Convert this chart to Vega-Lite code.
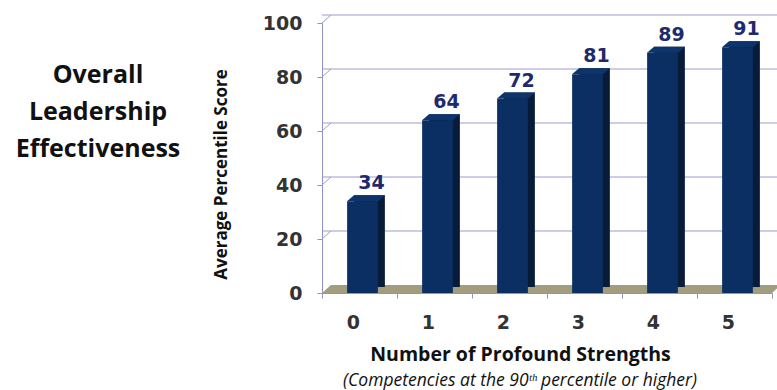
{
  "$schema": "https://vega.github.io/schema/vega-lite/v6.json",
  "width": 450,
  "height": 270,
  "autosize": {"type": "none"},
  "padding": {"left": 322, "top": 23, "right": 5, "bottom": 97},
  "background": "white",
  "title": {
    "text": "(Competencies at the 90ᵗʰ percentile or  higher)",
    "orient": "bottom",
    "anchor": "middle",
    "dx": -27,
    "offset": 8,
    "font": "Open Sans",
    "fontStyle": "italic",
    "fontWeight": "normal",
    "fontSize": 17.5,
    "color": "#111111"
  },
  "config": {
    "view": {"stroke": null},
    "axis": {"domainColor": "#8f92c4", "tickColor": "#8f92c4", "grid": false}
  },
  "data": {
    "values": [
      {"n": "0", "v": 34},
      {"n": "1", "v": 64},
      {"n": "2", "v": 72},
      {"n": "3", "v": 81},
      {"n": "4", "v": 89},
      {"n": "5", "v": 91}
    ]
  },
  "layer": [
    {
      "data": {"values": [{"v": 20}, {"v": 40}, {"v": 60}, {"v": 80}, {"v": 100}]},
      "mark": {"type": "rule", "stroke": "#9a9dcc", "strokeWidth": 1, "xOffset": 9, "yOffset": -8},
      "encoding": {
        "y": {"field": "v", "type": "quantitative", "scale": {"domain": [0, 100], "nice": false}, "title": "Average Percentile Score"}
      }
    },
    {
      "data": {"values": [{"v": 20}, {"v": 40}, {"v": 60}, {"v": 80}, {"v": 100}]},
      "mark": {"type": "point", "shape": "M0,0L1,-0.889", "size": 324, "filled": false, "stroke": "#9a9dcc", "strokeWidth": 1, "opacity": 1},
      "encoding": {
        "x": {"datum": "0", "type": "nominal", "bandPosition": 0},
        "y": {"field": "v", "type": "quantitative"}
      }
    },
    {
      "data": {"values": [{"v": 0}]},
      "mark": {"type": "point", "shape": "M-1,0L1,0L1.04,-0.0356L-0.96,-0.0356Z", "size": 202500, "filled": true, "fill": "#a39d80", "stroke": null, "opacity": 1},
      "encoding": {
        "x": {"datum": "3", "type": "nominal", "bandPosition": 0},
        "y": {"field": "v", "type": "quantitative"}
      }
    },
    {
      "mark": {"type": "bar", "fill": "#081c3a", "width": {"band": 0.41}, "xOffset": 10, "x2Offset": 10, "yOffset": -6, "y2Offset": -6},
      "encoding": {
        "x": {"field": "n", "type": "nominal"},
        "y": {"field": "v", "type": "quantitative"}
      }
    },
    {
      "mark": {"type": "bar", "fill": "#0b2f62", "width": {"band": 0.41}, "xOffset": 3, "x2Offset": 3},
      "encoding": {
        "x": {
          "field": "n", "type": "nominal", "sort": null,
          "scale": {"paddingInner": 0, "paddingOuter": 0},
          "title": "Number of Profound Strengths",
          "axis": {
            "labelAngle": 0, "tickBand": "extent", "tickSize": 5, "labelPadding": 24,
            "labelFont": "DejaVu Sans", "labelFontWeight": "bold", "labelFontSize": 19, "labelColor": "#333333",
            "titleFont": "Open Sans", "titleFontWeight": "bold", "titleFontSize": 19.5, "titleColor": "#111111",
            "titlePadding": 13, "titleX": 198
          }
        },
        "y": {
          "field": "v", "type": "quantitative",
          "axis": {
            "values": [0, 20, 40, 60, 80, 100], "tickSize": 5, "labelPadding": 15,
            "labelFont": "DejaVu Sans", "labelFontWeight": "bold", "labelFontSize": 19, "labelColor": "#333333",
            "titleFont": "Open Sans", "titleFontWeight": "bold", "titleFontSize": 17, "titleColor": "#111111",
            "titlePadding": 32, "titleY": 151
          }
        }
      }
    },
    {
      "mark": {"type": "point", "shape": "M-0.625,0L0.925,0L1.275,-0.3L-0.275,-0.3Z", "size": 1600, "filled": true, "fill": "#0e346c", "stroke": null, "opacity": 1},
      "encoding": {
        "x": {"field": "n", "type": "nominal"},
        "y": {"field": "v", "type": "quantitative"}
      }
    },
    {
      "mark": {"type": "text", "dx": 12, "dy": -18, "font": "DejaVu Sans", "fontWeight": "bold", "fontSize": 19, "fill": "#1f2a6e"},
      "encoding": {
        "x": {"field": "n", "type": "nominal"},
        "y": {"field": "v", "type": "quantitative"},
        "text": {"field": "v", "type": "quantitative"}
      }
    },
    {
      "data": {"values": [{"t": "Overall Leadership Effectiveness"}]},
      "mark": {"type": "text", "align": "center", "baseline": "top", "dx": -224, "dy": -1, "font": "Open Sans", "fontWeight": "bold", "fontSize": 25, "lineHeight": 37, "fill": "#111111"},
      "encoding": {
        "x": {"datum": "0", "type": "nominal", "bandPosition": 0},
        "y": {"datum": 85, "type": "quantitative"},
        "text": {"value": ["Overall", "Leadership", "Effectiveness"]}
      }
    }
  ]
}
